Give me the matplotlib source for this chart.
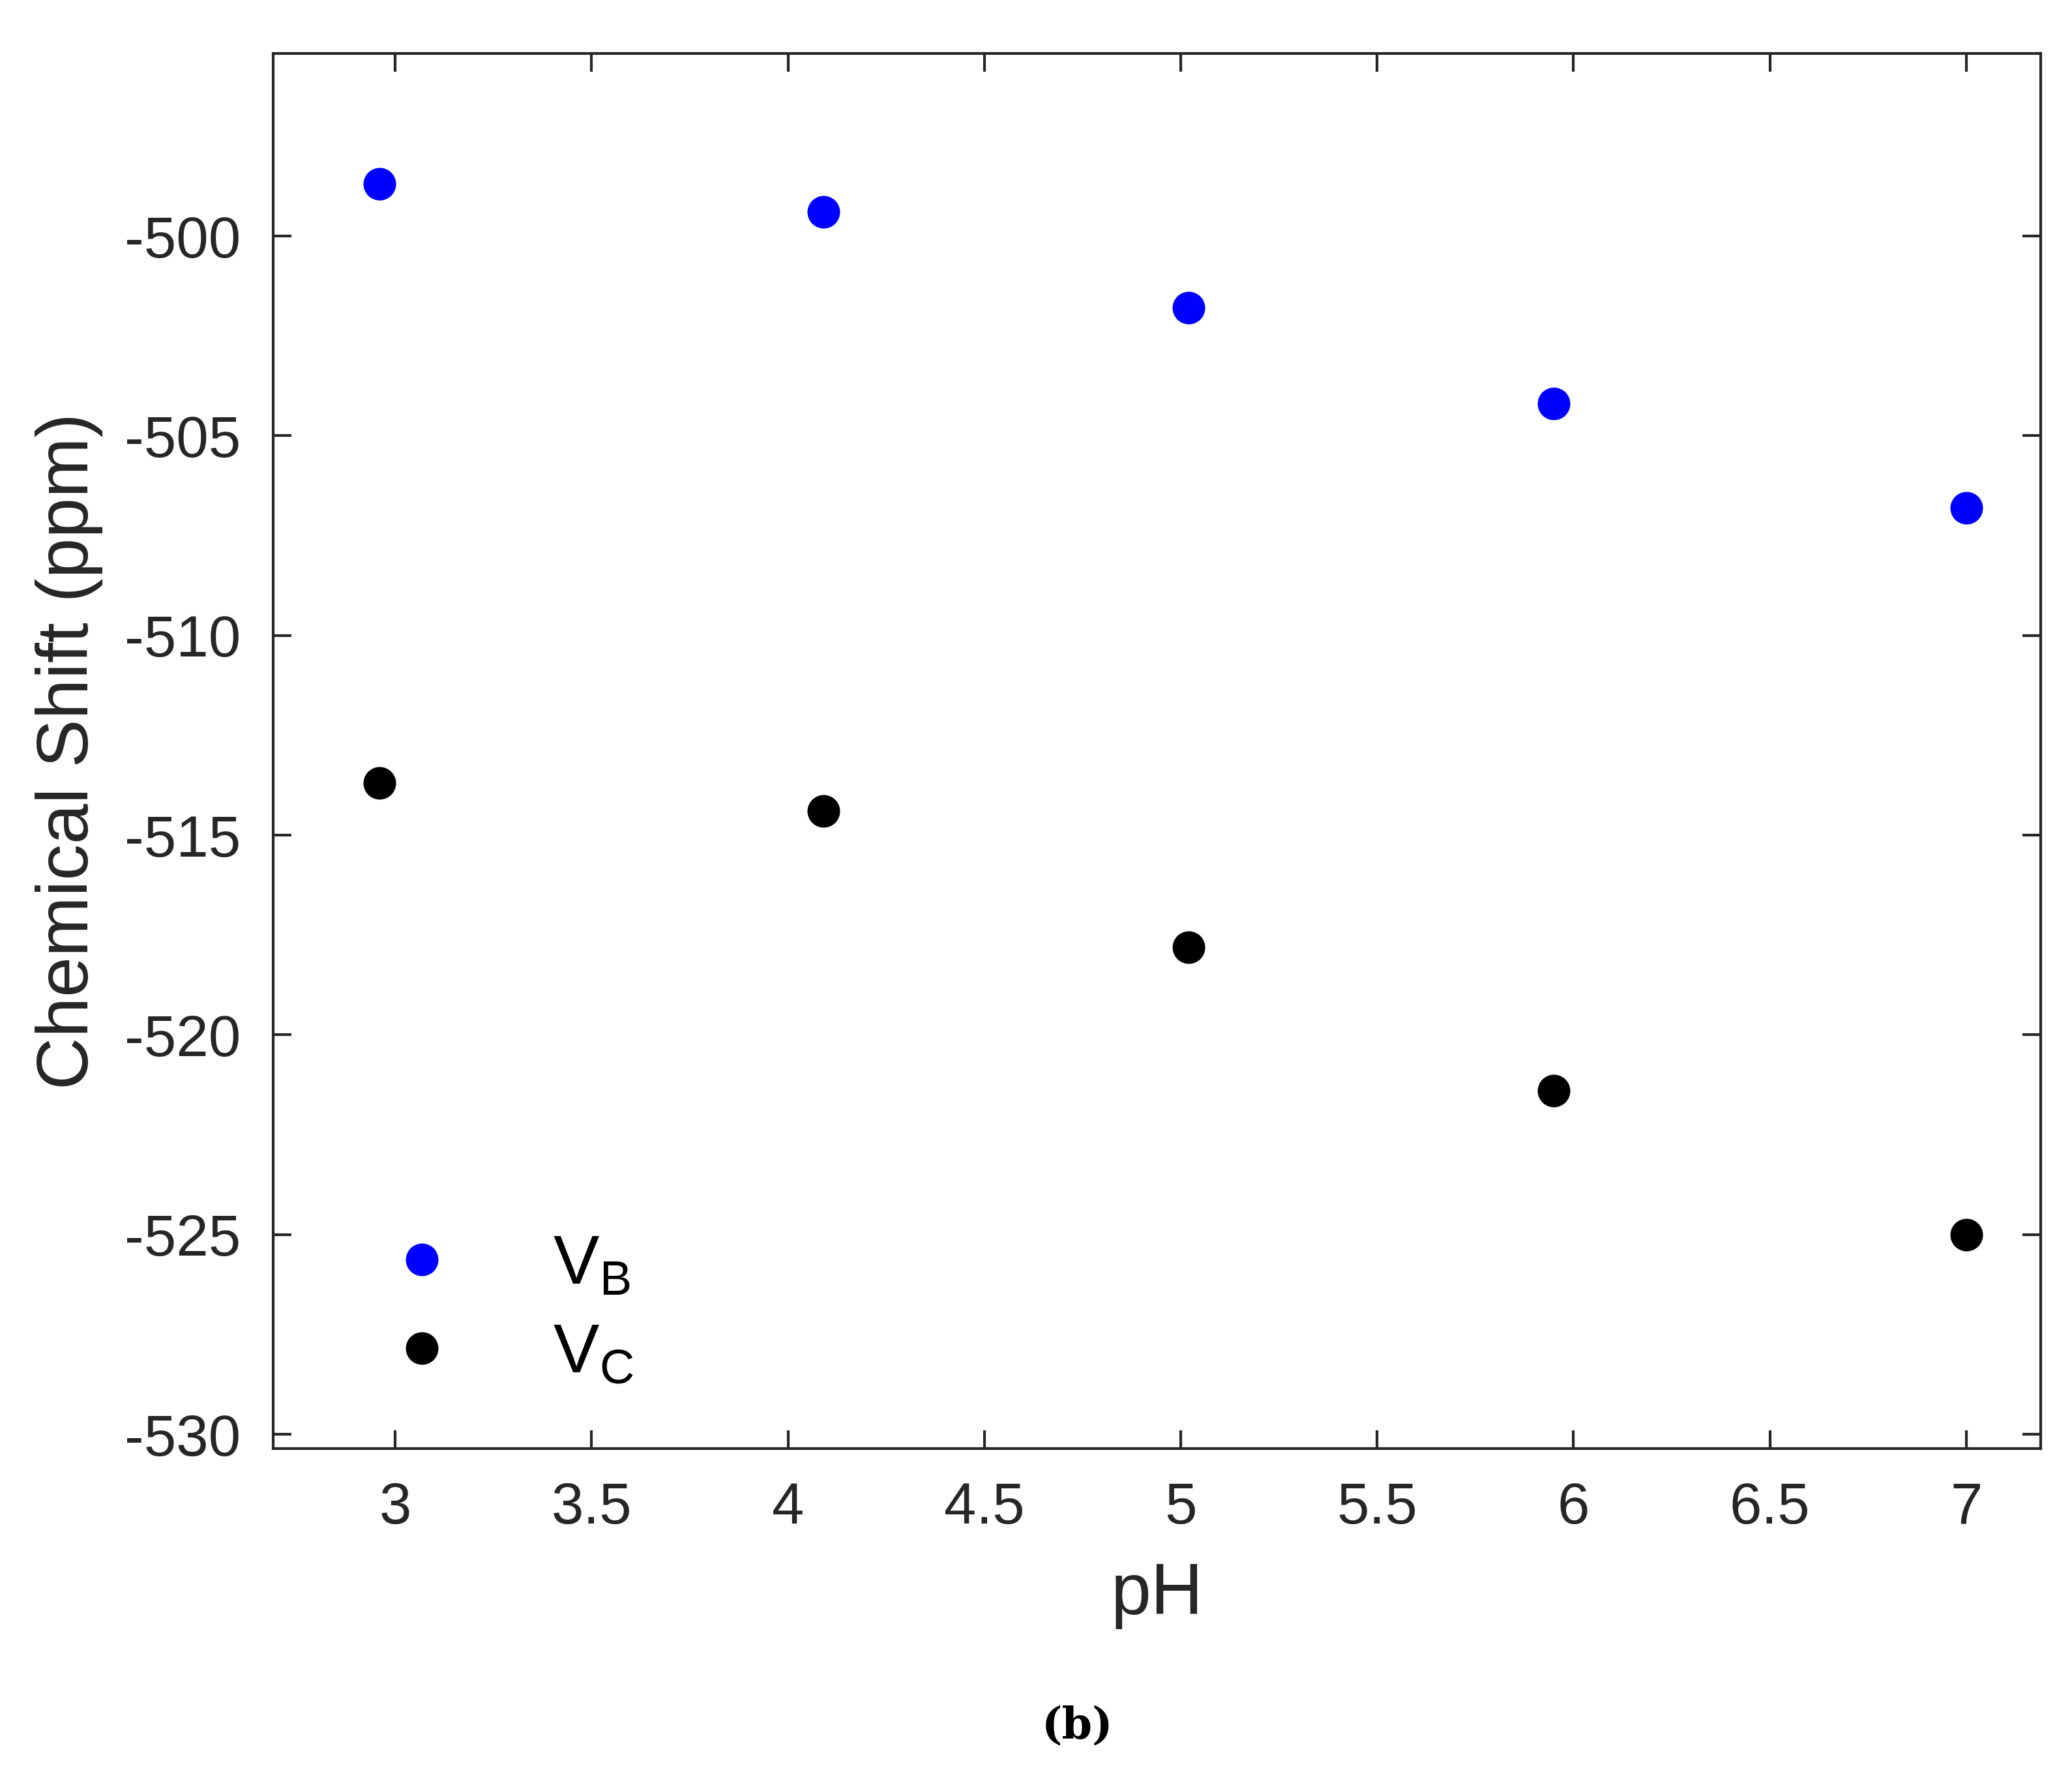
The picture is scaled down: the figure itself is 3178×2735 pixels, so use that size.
import matplotlib
matplotlib.use("Agg")
import matplotlib.pyplot as plt

ph = [2.96, 4.09, 5.02, 5.95, 7.0]
vb = [-498.7, -499.4, -501.8, -504.2, -506.8]
vc = [-513.7, -514.4, -517.8, -521.4, -525.0]
xticks = [3, 3.5, 4, 4.5, 5, 5.5, 6, 6.5, 7]
xticklabels = ["3", "3.5", "4", "4.5", "5", "5.5", "6", "6.5", "7"]
yticks = [-530, -525, -520, -515, -510, -505, -500]

plt.rcParams['font.family'] = ['Liberation Sans', 'DejaVu Sans']
plt.rcParams['axes.unicode_minus'] = False
plt.rcParams['mathtext.fontset'] = 'custom'
plt.rcParams['mathtext.rm'] = 'Liberation Sans'

fig = plt.figure(figsize=(15.89, 13.675), dpi=200)
ax = fig.add_axes([0.132, 0.1875, 0.853, 0.7825])
ax.plot(ph, vb, 'o', color='#0000ff', markersize=17, label=r'V$_{\mathregular{B}}$')
ax.plot(ph, vc, 'o', color='black', markersize=17, label=r'V$_{\mathregular{C}}$')
ax.set_xlim(2.69, 7.19)
ax.set_ylim(-530.36, -495.43)
ax.set_xticks(xticks)
ax.set_xticklabels(xticklabels)
ax.set_yticks(yticks)
ax.tick_params(direction='in', length=10, width=1.5, labelsize=32, top=True, right=True, pad=18, colors='#262626')
for s in ax.spines.values():
    s.set_linewidth(1.5)
    s.set_color('#262626')
ax.set_xlabel('pH', fontsize=40, color='#262626', labelpad=14)
ax.set_ylabel('Chemical Shift (ppm)', fontsize=40, color='#262626', labelpad=12)
ax.legend(loc='lower left', bbox_to_anchor=(0.01, 0.0), frameon=False, fontsize=38,
          handletextpad=0.9, labelspacing=0.35)
fig.text(0.52, 0.025, '(b)', fontsize=24, fontweight='bold', family='DejaVu Serif', ha='center')
fig.savefig('out.png', dpi=200)
